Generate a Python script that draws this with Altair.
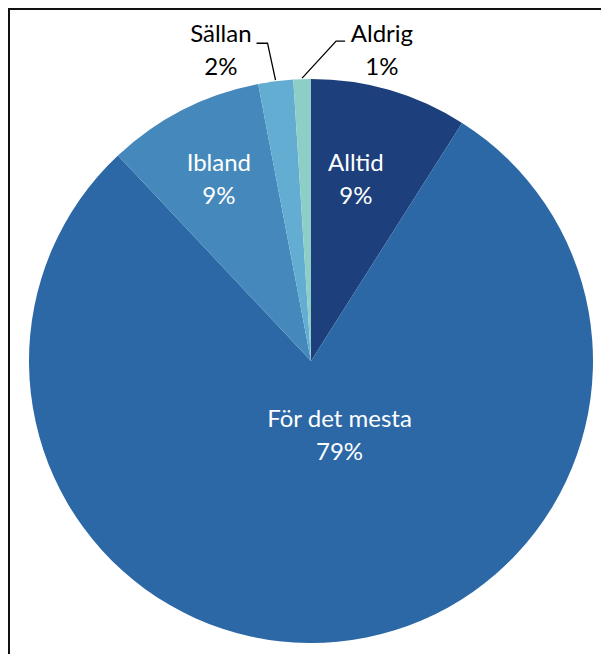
import math
import altair as alt
import pandas as pd

# ---- data ----
categories = ["Alltid", "För det mesta", "Ibland", "Sällan", "Aldrig"]
shares = [9, 79, 9, 2, 1]
pct_labels = ["9%", "79%", "9%", "2%", "1%"]
colors = ["#1D3F7B", "#2C67A6", "#4588BB", "#63ADD2", "#8DCEC6"]

# ---- layout / style ----
W, H = 593, 646
CX, CY, R = 303, 353, 282
FONT = "Lato"
FS = 24
LH = 33

df = pd.DataFrame({"cat": categories, "share": shares, "pct": pct_labels,
                   "order": list(range(len(categories)))})
df["label"] = df["cat"] + "\n" + df["pct"]
df["mid"] = df["share"].cumsum() - df["share"] / 2

theta_scale = alt.Scale(domain=[0, 100], range=[0, 2 * math.pi])

pie = alt.Chart(df).mark_arc(outerRadius=R).encode(
    theta=alt.Theta("share:Q", stack=True, scale=theta_scale),
    order=alt.Order("order:Q"),
    color=alt.Color("cat:N", scale=alt.Scale(domain=categories, range=colors), legend=None),
    x=alt.value(CX), y=alt.value(CY),
)

# label placement: (category, radius, dx, dy, colour); dy moves the first line
SHIFT = -LH / 2
label_style = [
    ("Alltid", 186, -7, -2 + SHIFT, "white"),
    ("För det mesta", 80, 21, -4 + SHIFT, "white"),
    ("Ibland", 203, 0, 0 + SHIFT, "white"),
    ("Sällan", 320, -50, 8 + SHIFT, "black"),
    ("Aldrig", 320, 81, 10 + SHIFT, "black"),
]

layers = [pie]
for cat, rad, dx, dy, col in label_style:
    layers.append(
        alt.Chart(df).transform_filter(alt.datum.cat == cat).mark_text(
            radius=rad, dx=dx, dy=dy, color=col, font=FONT, fontSize=FS,
            lineBreak="\n", lineHeight=LH, align="center", baseline="middle",
        ).encode(
            theta=alt.Theta("mid:Q", scale=theta_scale),
            text="label:N",
            x=alt.value(CX), y=alt.value(CY),
        )
    )

# leader lines for the small outside slices, anchored at the slice's mid-angle edge
leader_style = {"Sällan": (-8, -37, -11), "Aldrig": (34, -37, 9)}
rows = []
for cat, (ex, ey, tail) in leader_style.items():
    mid = float(df.loc[df["cat"] == cat, "mid"].iloc[0])
    ang = mid / 100 * 2 * math.pi
    ax = CX + (R + 1) * math.sin(ang)
    ay = CY - (R + 1) * math.cos(ang)
    rows.append({"cat": cat, "i": 0, "px": ax, "py": ay})
    rows.append({"cat": cat, "i": 1, "px": ax + ex, "py": ay + ey})
    rows.append({"cat": cat, "i": 2, "px": ax + ex + tail, "py": ay + ey})
leaders = alt.Chart(pd.DataFrame(rows)).mark_line(color="black", strokeWidth=1.3).encode(
    x=alt.X("px:Q", scale=None), y=alt.Y("py:Q", scale=None),
    detail="cat:N", order="i:Q",
)
layers.append(leaders)

# frame (top and left edges visible)
frame_top = alt.Chart(df).mark_rule(color="#111", strokeWidth=2).encode(
    x=alt.value(0), x2=alt.value(W), y=alt.value(1))
frame_left = alt.Chart(df).mark_rule(color="#111", strokeWidth=2).encode(
    x=alt.value(1), y=alt.value(0), y2=alt.value(H))
layers += [frame_top, frame_left]

chart = alt.layer(*layers).properties(
    width=W, height=H, padding=0, autosize="none", background="white"
).configure_view(stroke=None)

chart.save("out.html", embed_options={"renderer": "svg", "actions": False})
